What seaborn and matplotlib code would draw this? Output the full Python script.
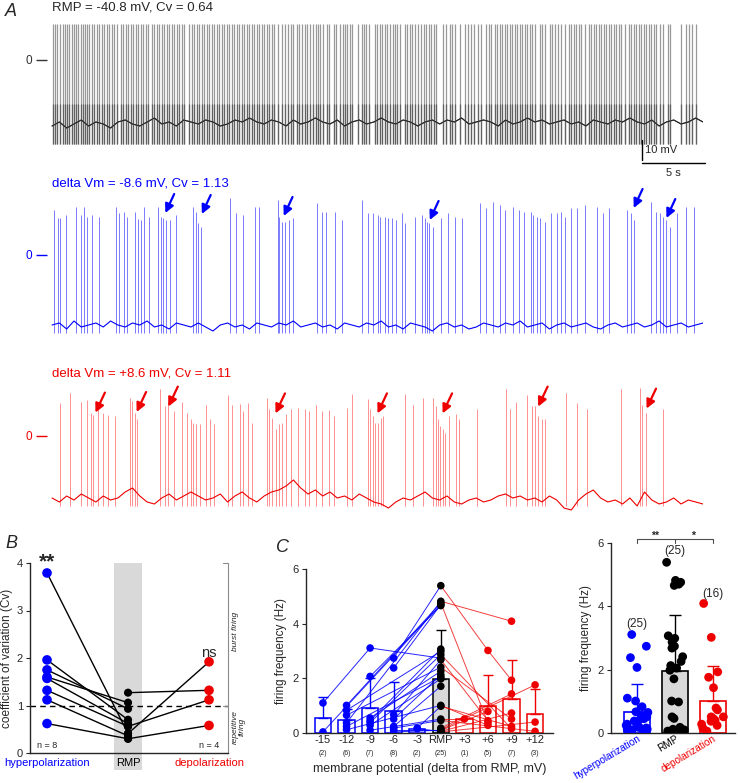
"""
Firing pattern vs membrane potential: example traces (A), Cv (B), firing frequency (C)
"""
import numpy as np
import pandas as pd
import matplotlib
matplotlib.use('Agg')
import matplotlib.pyplot as plt
import matplotlib.transforms as mtransforms
from matplotlib.patches import Rectangle
import seaborn as sns

sns.set_style('ticks')
plt.rcParams['font.family'] = ['Liberation Sans', 'DejaVu Sans']
plt.rcParams['axes.linewidth'] = 1.0

BLUE = '#0000ff'
RED = '#ee0000'
GREY = '#d9d9d9'

# ---------------- data: panel A traces (time in s, voltage in mV) ----------------
DUR = 51.7
black_spikes = [
    0.05, 0.24, 0.42, 0.63, 0.85, 1.03, 1.22, 1.38, 1.56, 1.75, 1.90, 2.09, 2.28, 2.43, 2.62, 2.80, 2.96,
    3.15, 3.33, 3.54, 3.73, 3.94, 4.13, 4.34, 4.55, 4.74, 4.92, 5.13, 5.45, 5.66, 5.87, 6.06, 6.24, 6.46,
    6.67, 6.85, 7.04, 7.25, 7.46, 7.65, 7.91, 8.10, 8.31, 8.52, 8.70, 8.92, 9.10, 9.31, 9.50, 9.68, 9.89,
    10.11, 10.29, 10.48, 10.90, 11.08, 11.27, 11.48, 11.69, 11.88, 12.06, 12.28, 12.49, 12.67, 12.86,
    13.07, 13.28, 13.47, 13.65, 13.86, 14.07, 14.26, 14.44, 14.66, 14.87, 15.05, 15.24, 15.45, 15.66,
    15.85, 16.03, 16.24, 16.46, 16.64, 16.83, 17.04, 17.25, 17.43, 17.62, 17.96, 18.23, 18.49, 18.76,
    18.94, 19.15, 19.42, 19.63, 19.87, 20.08, 20.26, 20.48, 20.69, 20.93, 21.14, 21.32, 21.53, 21.80,
    22.01, 22.38, 22.59, 22.86, 23.07, 23.25, 23.44, 23.65, 23.86, 24.31, 24.58, 24.79, 24.97, 25.16,
    25.63, 25.82, 26.03, 26.22, 26.43, 26.61, 26.83, 27.04, 27.22, 27.41, 27.62, 28.02, 28.20, 28.41,
    28.62, 28.81, 29.07, 29.34, 29.52, 29.74, 29.95, 30.13, 30.32, 30.53, 31.06, 31.32, 31.59, 31.80,
    31.98, 32.38, 32.78, 33.04, 33.31, 33.49, 33.84, 34.10, 34.44, 34.71, 34.89, 35.16, 35.34, 35.56,
    35.77, 35.95, 36.14, 36.35, 36.56, 36.75, 36.93, 37.14, 37.35, 37.54, 37.72, 37.94, 38.15, 38.33,
    38.73, 38.94, 39.13, 39.52, 39.74, 39.92, 40.19, 40.45, 40.71, 41.03, 41.24, 41.43, 41.64, 41.85,
    42.04, 42.30, 42.65, 42.83, 43.02, 43.23, 43.44, 43.62, 43.81, 44.02, 44.23, 44.42, 44.60, 44.81,
    45.03, 45.21, 45.48, 45.82, 46.01, 46.19, 46.40, 46.61, 46.80, 46.98, 47.20, 47.41, 47.59, 47.78,
    47.99, 48.25, 48.52, 48.92, 49.05, 49.97, 50.32, 50.58, 50.85, 51.11]
black_peak = 18
black_trough = -42
black_base = [
    -33, -31, -34, -32, -30, -33, -31, -32, -34, -31, -30, -32, -33, -31, -29, -32, -31, -33, -30, -31,
    -32, -30, -31, -33, -32, -30, -31, -29, -31, -32, -30, -31, -33, -30, -32, -31, -29, -31, -32, -30,
    -33, -31, -30, -32, -31, -29, -31, -32, -30, -31, -33, -31, -30, -32, -30, -31, -29, -32, -31, -30,
    -31, -33, -30, -32, -31, -29, -31, -30, -32, -31, -30, -32, -31, -33, -30, -31, -32, -30, -31, -29,
    -31, -32, -30, -33, -31, -30, -32, -31, -29, -31]

blue_spikes = [
    0.19, 0.45, 0.67, 1.12, 1.87, 2.32, 2.55, 2.81, 3.18, 3.75, 5.06, 5.32, 5.69, 5.99, 6.56, 6.82, 7.04,
    7.30, 7.68, 8.43, 8.62, 8.80, 9.07, 9.37, 9.81, 11.16, 11.43, 11.61, 11.80, 14.16, 14.61, 15.17,
    16.11, 16.41, 17.91, 18.06, 18.28, 18.54, 18.80, 19.10, 21.05, 21.43, 21.73, 22.48, 23.04, 24.65,
    25.10, 25.47, 25.85, 26.03, 26.41, 26.67, 26.97, 27.35, 27.80, 28.02, 28.84, 29.41, 29.59, 29.78,
    29.97, 30.27, 30.90, 31.47, 32.03, 32.59, 33.98, 34.46, 35.03, 35.59, 35.96, 36.64, 37.09, 37.46,
    38.02, 38.21, 38.51, 38.77, 39.15, 39.63, 40.08, 40.46, 40.76, 41.21, 41.66, 42.33, 43.27, 43.75,
    44.20, 45.70, 46.00, 46.19, 47.57, 47.95, 48.25, 48.51, 48.77, 49.07, 49.63, 50.38, 50.95]
blue_peaks = [
    22.5, 18.3, 18.3, 20.0, 24.2, 20.0, 24.2, 19.2, 20.0, 19.2, 24.2, 20.8, 21.7, 19.2, 21.7, 17.9, 17.5,
    24.2, 19.2, 24.2, 19.2, 18.3, 17.5, 17.5, 20.0, 24.2, 21.7, 15.8, 14.2, 28.3, 20.8, 20.0,
    24.2, 24.2, 27.5, 19.2, 16.7, 16.7, 17.5, 18.3, 25.8, 21.7, 21.7, 21.7, 17.5, 27.5,
    20.8, 20.8, 20.0, 19.2, 19.2, 18.3, 18.3, 17.5, 20.8, 15.8, 19.2, 20.0, 18.3, 16.7,
    15.8, 14.2, 18.3, 20.8, 19.2, 18.3, 25.8, 23.3, 26.7, 25.0, 22.5, 24.2, 22.5, 21.7,
    21.7, 20.0, 19.2, 18.3, 16.7, 20.8, 20.8, 21.7, 19.2, 23.3, 23.3, 25.0, 24.2, 20.8,
    23.3, 22.5, 20.8, 17.5, 26.7, 21.7, 20.8, 19.2, 17.5, 14.2, 20.8, 24.2, 24.2]
blue_trough = -39
blue_base = [
    -35, -34, -37, -33, -36, -35, -34, -36, -33, -35, -36, -34, -35, -33, -36, -35, -37, -34, -35, -36,
    -34, -36, -38, -35, -34, -36, -35, -37, -34, -35, -36, -34, -35, -33, -36, -35, -34, -36, -35, -37,
    -34, -35, -36, -34, -35, -33, -36, -35, -37, -34, -35, -36, -38, -35, -34, -36, -35, -37, -36, -34,
    -35, -36, -34, -35, -33, -36, -35, -34, -37, -35, -34, -36, -35, -34, -36, -37, -35, -34, -36, -35,
    -34, -36, -35, -33, -36, -35, -34, -36, -35, -34]
blue_arrow_t = [9.0, 11.9, 18.4, 30.0, 46.2, 48.8]
blue_arrow_v = [21, 20.5, 19.5, 17.5, 23.5, 18.5]

red_spikes = [
    0.62, 1.45, 2.34, 2.76, 3.10, 3.27, 3.62, 4.03, 4.48, 5.00, 6.20, 6.38, 6.55, 6.72, 8.55, 8.96, 9.24,
    9.65, 10.34, 10.69, 11.03, 11.20, 11.44, 11.72, 12.24, 12.58, 12.86, 13.96, 14.31, 14.89, 15.17,
    15.58, 15.86, 17.06, 17.24, 17.48, 17.75, 17.99, 18.27, 18.61, 18.96, 19.51, 20.06, 20.44, 20.96,
    21.44, 21.96, 22.41, 23.44, 23.85, 25.06, 25.23, 25.51, 25.68, 25.85, 26.09, 26.30, 28.02, 28.68,
    29.47, 30.27, 30.51, 30.68, 30.85, 31.02, 31.20, 31.54, 32.06, 32.33, 33.78, 36.02, 36.37, 36.88,
    37.74, 38.09, 38.33, 38.61, 38.88, 39.19, 40.78, 41.71, 42.47, 45.16, 46.71, 46.88, 47.16, 48.53]
red_peaks = [
    16.3, 21.3, 17.0, 18.0, 11.7, 10.3, 17.0, 11.7, 10.3, 10.0, 19.2, 17.5, 11.7, 8.3, 23.3, 15.0, 17.5,
    12.5, 17.0, 11.7, 8.3, 6.7, 5.8, 6.2, 15.3, 8.7, 6.2, 20.3, 15.3, 15.8, 12.5,
    16.7, 6.7, 19.2, 13.3, 9.2, 3.3, 5.8, 6.7, 10.8, 13.3, 14.2, 13.3, 12.5, 15.3,
    12.5, 13.0, 10.0, 14.2, 20.8, 18.3, 13.3, 10.0, 6.7, 6.7, 9.2, 10.0, 21.2, 15.3,
    19.2, 19.2, 15.0, 8.7, 5.0, 3.3, 1.7, 10.0, 10.8, 8.3, 13.3, 23.3, 13.3, 17.0,
    20.3, 15.0, 15.0, 10.0, 8.7, 8.3, 21.3, 16.3, 13.3, 23.7, 24.2, 15.3, 11.7, 13.3]
red_trough = -35
red_base = [
    -31, -33, -30, -32, -29, -31, -33, -30, -32, -31, -28, -26, -30, -33, -34, -31, -29, -32, -30, -28,
    -30, -32, -31, -29, -33, -30, -28, -31, -33, -30, -28, -27, -25, -22, -26, -29, -27, -30, -28, -31,
    -30, -32, -29, -31, -33, -34, -36, -33, -31, -32, -30, -28, -31, -32, -30, -33, -34, -32, -31, -33,
    -32, -30, -29, -31, -30, -32, -31, -33, -30, -32, -36, -37, -32, -29, -27, -31, -33, -32, -34, -31,
    -35, -28, -32, -34, -33, -31, -34, -32, -33, -34]
red_arrow_t = [3.45, 6.72, 9.24, 17.75, 25.85, 31.02, 38.61, 47.22]
red_arrow_v = [11.7, 12.0, 14.7, 11.3, 11.3, 11.3, 14.7, 13.7]

# ---------------- data: panel B (coefficient of variation) ----------------
b_hyper = [3.79, 1.96, 1.75, 1.60, 1.57, 1.32, 1.12, 0.62]
b_rmp_of_hyper = [0.41, 0.70, 0.93, 1.06, 0.62, 0.56, 0.36, 0.30]
b_rmp_of_depol = [1.27, 0.41, 0.56, 0.30]
b_depol = [1.32, 1.92, 1.12, 0.58]

# ---------------- data: panel C (firing frequency, Hz) ----------------
c_labels = ['-15', '-12', '-9', '-6', '-3', 'RMP', '+3', '+6', '+9', '+12']
c_counts = ['(2)', '(6)', '(7)', '(8)', '(2)', '(25)', '(1)', '(5)', '(7)', '(3)']
c_mean = [0.55, 0.48, 0.90, 0.80, 0.15, 1.98, 0.50, 0.97, 1.26, 0.71]
c_sd_top = [1.30, 0.88, 2.00, 1.87, np.nan, 3.76, np.nan, 2.12, 2.68, 1.62]

f_m15 = [1.10, 0.04]
f_m12 = [1.01, 0.83, 0.65, 0.37, 0.24, 0.12]
f_m9 = [3.11, 2.07, 0.55, 0.45, 0.38, 0.28, 0.10]
f_m6 = [2.74, 2.38, 0.67, 0.51, 0.24, 0.18, 0.12, 0.04]
f_m3 = [0.18, 0.16]
f_rmp = [5.39, 4.82, 4.76, 4.70, 4.66, 3.07, 2.99, 2.87, 2.74, 2.68, 2.41, 2.26, 2.13,
         2.05, 1.98, 1.71, 1.01, 0.98, 0.51, 0.46, 0.18, 0.12, 0.10, 0.06, 0.04]
f_p3 = [0.51]
f_p6 = [3.02, 0.79, 0.45, 0.37, 0.28]
f_p9 = [4.09, 1.93, 1.43, 0.73, 0.51, 0.24, 0.16]
f_p12 = [1.76, 0.40, 0.06]

# same-cell links (step index, Hz) -> (step index, Hz)
blue_links = [
    (0, 1.10, 2, 3.11), (2, 3.11, 5, 2.74), (0, 0.04, 5, 4.70),
    (1, 1.01, 5, 4.76), (1, 0.83, 5, 2.99), (1, 0.65, 5, 2.41), (1, 0.37, 5, 4.82),
    (1, 0.24, 5, 2.05), (1, 0.12, 5, 1.01),
    (2, 2.07, 5, 4.66), (2, 0.55, 5, 2.26), (2, 0.45, 5, 3.07), (2, 0.38, 5, 2.87),
    (2, 0.28, 5, 1.98), (2, 0.10, 5, 0.51),
    (3, 2.74, 5, 5.39), (3, 2.38, 5, 4.70), (3, 0.67, 5, 2.68), (3, 0.51, 5, 2.13),
    (3, 0.24, 5, 1.71), (3, 0.18, 5, 0.46), (3, 0.12, 5, 0.12), (3, 0.04, 5, 0.10),
    (4, 0.18, 5, 0.98), (4, 0.16, 5, 0.06)]
red_links = [
    (5, 5.39, 7, 3.02), (7, 3.02, 8, 1.93), (5, 4.82, 8, 4.09), (5, 4.76, 7, 0.37),
    (5, 2.87, 8, 0.16), (5, 2.68, 7, 0.45), (5, 2.41, 8, 0.51), (5, 0.51, 6, 0.51),
    (5, 0.18, 8, 1.43), (5, 0.12, 9, 1.76), (5, 0.10, 7, 0.79), (5, 0.06, 8, 0.73),
    (5, 0.04, 9, 0.40), (5, 0.46, 9, 0.06), (5, 1.01, 7, 0.28), (5, 0.98, 8, 0.24)]

# ---------------- data: pooled summary ----------------
s_groups = ['hyperpolarization', 'RMP', 'depolarization']
s_mean = [0.67, 1.97, 1.00]
s_sd_top = [1.55, 3.73, 2.13]
s_counts = ['(25)', '(25)', '(16)']
s_count_y = [3.45, 5.75, 4.40]

# ---------------- figure helpers (pixel layout) ----------------
W, H = 740, 783
fig = plt.figure(figsize=(W / 100, H / 100), dpi=100)


def add_ax(left, top, width, height):
    return fig.add_axes([left / W, 1 - (top + height) / H, width / W, height / H])


def ftext(x, y, s, **kw):
    fig.text(x / W, 1 - y / H, s, **kw)


# ---------------- panel A ----------------
def draw_trace(ax, spikes, peaks, trough, base, color, spike_color, ylim, lw=0.7):
    t_base = np.linspace(0, DUR, len(base))
    ax.vlines(spikes, trough, peaks, color=spike_color, lw=lw)
    ax.plot(t_base, base, color=color, lw=0.8)
    ax.set_xlim(-0.4, DUR)
    ax.set_ylim(*ylim)
    for sp in ax.spines.values():
        sp.set_visible(False)
    ax.set_xticks([])
    ax.set_yticks([0])
    ax.set_yticklabels(['0'], color=color, fontsize=8.5)
    ax.tick_params(axis='y', length=8, width=1, color=color, pad=3)


axA1 = add_ax(47, 8, 656, 172)
draw_trace(axA1, black_spikes, black_peak, black_trough, black_base, '0.2', '0.6', (-60, 26), lw=0.9)
axA1.vlines(black_spikes, black_trough, -22, color='0.38', lw=0.9)
axA1.plot(np.linspace(0, DUR, len(black_base)), black_base, color='0.15', lw=0.7)
# scale bars: 10 mV, 5 s
axA1.plot([46.86, 46.86], [-50, -40], color='k', lw=1, clip_on=False)
axA1.plot([46.86, 51.86], [-51.5, -51.5], color='k', lw=1, clip_on=False)
axA1.text(47.1, -45, '10 mV', fontsize=8, va='center', ha='left')
axA1.text(49.36, -56.5, '5 s', fontsize=8, va='center', ha='center')

axA2 = add_ax(47, 191, 656, 154)
draw_trace(axA2, blue_spikes, blue_peaks, blue_trough, blue_base, BLUE, '#7a7aff', (-45, 32))
for t, v in zip(blue_arrow_t, blue_arrow_v):
    axA2.annotate('', xy=(t, v), xytext=(t + 0.7, v + 9.5),
                  arrowprops=dict(arrowstyle='-|>', color=BLUE, lw=1.6, mutation_scale=13,
                                  shrinkA=0, shrinkB=0))

axA3 = add_ax(47, 376, 656, 144)
draw_trace(axA3, red_spikes, red_peaks, red_trough, red_base, RED, '#ff9090', (-42, 30))
for t, v in zip(red_arrow_t, red_arrow_v):
    axA3.annotate('', xy=(t, v), xytext=(t + 0.75, v + 10),
                  arrowprops=dict(arrowstyle='-|>', color=RED, lw=1.6, mutation_scale=13,
                                  shrinkA=0, shrinkB=0))

ftext(5, 12, 'A', fontsize=13, style='italic', va='center')
ftext(52, 8, 'RMP = -40.8 mV, Cv = 0.64', fontsize=9.5, va='center')
ftext(52, 184, 'delta Vm = -8.6 mV, Cv = 1.13', fontsize=9.5, va='center', color=BLUE)
ftext(52, 374, 'delta Vm = +8.6 mV, Cv = 1.11', fontsize=9.5, va='center', color=RED)

# ---------------- panel B ----------------
axB = add_ax(30, 563, 198, 190)
axB.add_patch(Rectangle((1 - 0.167, -0.36), 0.334, 4.36, color=GREY, zorder=0, clip_on=False, lw=0))
axB.axhline(1, color='k', ls=(0, (4, 3)), lw=1, zorder=1)
for h, r in zip(b_hyper, b_rmp_of_hyper):
    axB.plot([0, 1], [h, r], color='k', lw=1, zorder=2)
for r, d in zip(b_rmp_of_depol, b_depol):
    axB.plot([1, 2], [r, d], color='k', lw=1, zorder=2)
sns.scatterplot(x=[0] * len(b_hyper), y=b_hyper, color=BLUE, s=48, edgecolor='none', ax=axB, zorder=3)
sns.scatterplot(x=[1] * len(b_rmp_of_hyper + b_rmp_of_depol), y=b_rmp_of_hyper + b_rmp_of_depol,
                color='k', s=34, edgecolor='none', ax=axB, zorder=3)
sns.scatterplot(x=[2] * len(b_depol), y=b_depol, color=RED, s=48, edgecolor='none', ax=axB, zorder=3)
axB.set_xlim(-0.21, 2.234)
axB.set_ylim(0, 4)
sns.despine(ax=axB)
axB.set_xticks([])
axB.set_yticks([0, 1, 2, 3, 4])
axB.tick_params(axis='y', labelsize=8, length=3, pad=2)
axB.set_ylabel('coefficient of variation (Cv)', fontsize=8.5, labelpad=3)
axB.text(0, 4.02, '**', fontsize=15, ha='center', va='center', fontweight='bold')
axB.text(2, 2.1, 'ns', fontsize=10.5, ha='center', va='center')
axB.text(0, 0.16, 'n = 8', fontsize=6.5, ha='center', va='center')
axB.text(2, 0.16, 'n = 4', fontsize=6.5, ha='center', va='center')
tB = mtransforms.blended_transform_factory(axB.transAxes, axB.transData)
axB.plot([0.975, 1, 1, 0.975], [4, 4, 0, 0], transform=tB, color='0.55', lw=0.8, clip_on=False)
axB.plot([0.975, 1], [1, 1], transform=tB, color='0.55', lw=0.8, clip_on=False)
axB.text(1.04, 2.55, 'burst firing', transform=tB, rotation=90, fontsize=6, style='italic',
         ha='center', va='center')
axB.text(1.055, 0.55, 'repetitive\nfiring', transform=tB, rotation=90, fontsize=6, style='italic',
         ha='center', va='center', linespacing=0.9)
for x, lab, col in zip([0, 1, 2], s_groups, [BLUE, 'k', RED]):
    axB.text(x, -0.22, lab, fontsize=8, color=col, ha='center', va='center')
ftext(5, 544, 'B', fontsize=13, style='italic', va='center')

# ---------------- panel C ----------------
axC = add_ax(306, 569, 247, 164)
c_colors = [BLUE] * 5 + ['k'] + [RED] * 4
c_faces = ['white'] * 5 + [GREY] + ['white'] * 4
c_points = [f_m15, f_m12, f_m9, f_m6, f_m3, f_rmp, f_p3, f_p6, f_p9, f_p12]
xc = np.arange(len(c_labels))
axC.bar(xc, c_mean, width=0.7, color=c_faces, edgecolor=c_colors, lw=1.1, zorder=1)
for i in xc:
    if not np.isnan(c_sd_top[i]):
        axC.errorbar(i, c_mean[i], yerr=[[0], [c_sd_top[i] - c_mean[i]]], color=c_colors[i],
                     lw=1, capsize=3.5, capthick=1, zorder=1)
for x0, y0, x1, y1 in blue_links:
    axC.plot([x0, x1], [y0, y1], color=BLUE, lw=0.7, alpha=0.85, zorder=2)
for x0, y0, x1, y1 in red_links:
    axC.plot([x0, x1], [y0, y1], color=RED, lw=0.7, alpha=0.75, zorder=2)
df_c = pd.DataFrame({'x': np.repeat(xc, [len(p) for p in c_points]),
                     'freq': np.concatenate(c_points),
                     'col': np.repeat(c_colors, [len(p) for p in c_points])})
for col, sub in df_c.groupby('col'):
    sns.scatterplot(data=sub, x='x', y='freq', color=col, s=30, edgecolor='none', ax=axC, zorder=3)
axC.set_xlim(-0.72, 9.76)
axC.set_ylim(0, 6)
sns.despine(ax=axC)
axC.set_yticks([0, 2, 4, 6])
axC.set_xticks(xc)
axC.set_xticklabels(c_labels, fontsize=8)
axC.tick_params(axis='x', length=0, pad=1.5)
axC.tick_params(axis='y', labelsize=8, length=3, pad=2)
for i, c in enumerate(c_counts):
    axC.annotate(c, xy=(i, 0), xycoords=('data', 'axes fraction'), xytext=(0, -14.5),
                 textcoords='offset points', fontsize=5, ha='center', va='center')
axC.set_xlabel('membrane potential (delta from RMP, mV)', fontsize=9, labelpad=13)
axC.set_ylabel('firing frequency (Hz)', fontsize=8.5, labelpad=4)
ftext(276, 548, 'C', fontsize=13, style='italic', va='center')

# ---------------- pooled summary panel ----------------
axR = add_ax(611, 543, 124, 190)
s_colors = [BLUE, 'k', RED]
s_faces = ['white', GREY, 'white']
axR.bar([0, 1, 2], s_mean, width=0.7, color=s_faces, edgecolor=s_colors, lw=1.2, zorder=1)
for i in range(3):
    axR.errorbar(i, s_mean[i], yerr=[[0], [s_sd_top[i] - s_mean[i]]], color=s_colors[i],
                 lw=1, capsize=4.5, capthick=1, zorder=1)
df_s = pd.DataFrame({'group': ['hyperpolarization'] * 25 + ['RMP'] * 25 + ['depolarization'] * 16,
                     'freq': f_m15 + f_m12 + f_m9 + f_m6 + f_m3 + f_rmp + f_p3 + f_p6 + f_p9 + f_p12})
np.random.seed(7)
sns.stripplot(data=df_s, x='group', y='freq', hue='group', order=s_groups,
              palette={'hyperpolarization': BLUE, 'RMP': 'k', 'depolarization': RED},
              jitter=0.3, size=6.3, linewidth=0, legend=False, ax=axR, zorder=3)
for i in range(3):
    axR.text(i, s_count_y[i], s_counts[i], fontsize=8.5, ha='center', va='center')
axR.set_xlim(-0.684, 2.58)
axR.set_ylim(0, 6)
sns.despine(ax=axR)
axR.set_yticks([0, 2, 4, 6])
axR.tick_params(axis='y', labelsize=8, length=3, pad=2)
axR.tick_params(axis='x', length=0, pad=0.5)
axR.set_xticks([0, 1, 2])
axR.set_xticklabels(s_groups, rotation=31, ha='right', rotation_mode='anchor', fontsize=7.2)
for lab, col in zip(axR.get_xticklabels(), s_colors):
    lab.set_color(col)
axR.set_xlabel('')
axR.set_ylabel('firing frequency (Hz)', fontsize=8.5, labelpad=4)
# significance bracket
axR.plot([0, 0, 2, 2], [6.0, 6.14, 6.14, 6.0], color='0.3', lw=0.8, clip_on=False)
axR.plot([1, 1], [6.0, 6.14], color='0.3', lw=0.8, clip_on=False)
axR.text(0.47, 6.24, '**', fontsize=7.5, ha='center', va='center', fontweight='bold')
axR.text(1.47, 6.24, '*', fontsize=7.5, ha='center', va='center', fontweight='bold')

fig.savefig('out.png', dpi=100)
